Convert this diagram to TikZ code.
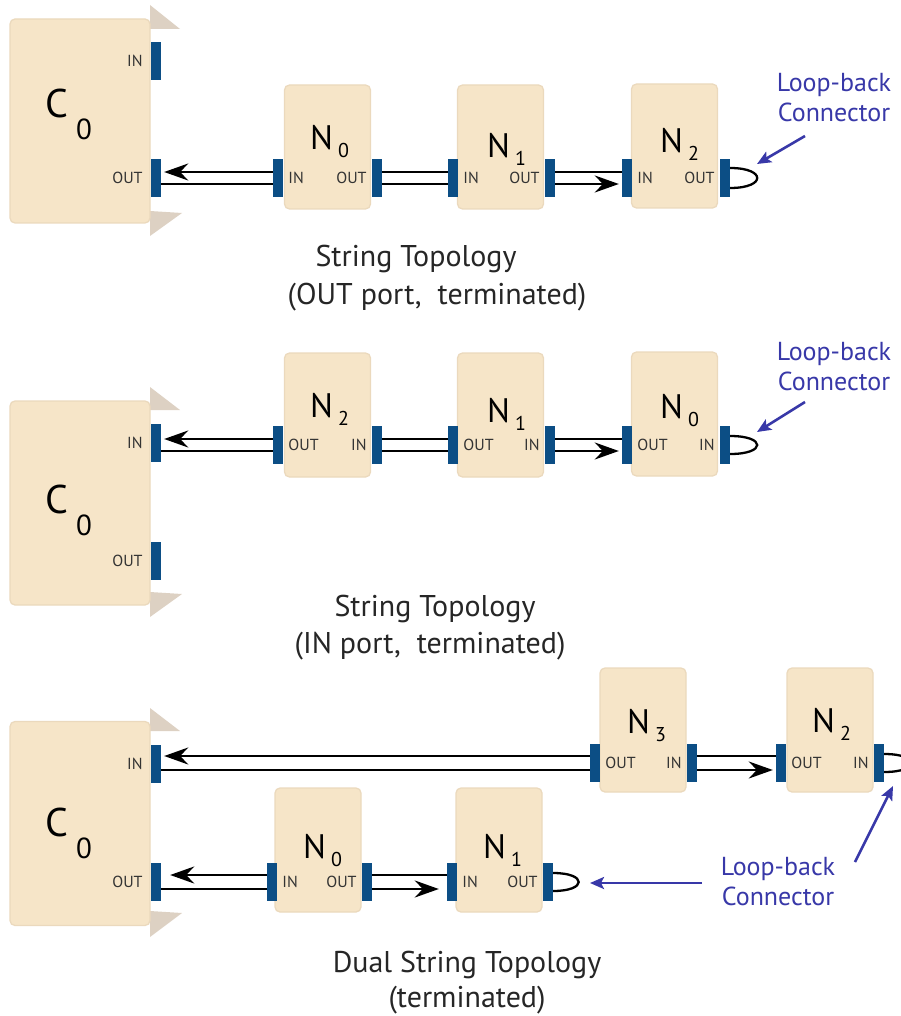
\documentclass[tikz,border=0pt]{standalone}
\usepackage{fontspec}
\setmainfont{PT Sans}
\usetikzlibrary{arrows.meta,positioning}
\definecolor{boxfill}{HTML}{F6E5C8}
\definecolor{boxline}{HTML}{EBD9BD}
\definecolor{flap}{HTML}{DDD1C3}
\definecolor{portblue}{HTML}{0C4E85}
\definecolor{notecol}{HTML}{3838A8}
\newcommand{\nsub}[1]{\kern5pt\raisebox{-8pt}{\fontsize{20}{20}\selectfont#1}}
\newcommand{\csub}[1]{\kern8pt\raisebox{-22pt}{\fontsize{29}{29}\selectfont#1}}
\tikzset{%
  % boxes, ports and texts
    base/.style = {rectangle, rounded corners=5pt, draw=boxline,
                   line width=1.3pt, fill=boxfill, inner sep=0pt},
    chassis/.style = {base, minimum width=140pt, minimum height=204pt},
    unit/.style = {base, minimum width=86pt, minimum height=124pt},
    port/.style = {rectangle, fill=portblue, inner sep=0pt,
                   minimum width=10pt, minimum height=38pt},
    plabel/.style = {font=\fontsize{16}{16}\selectfont, text=black!80, inner sep=0pt},
    nlabel/.style = {font=\fontsize{34}{34}\selectfont, inner sep=0pt, anchor=base west},
    clabel/.style = {font=\fontsize{40}{40}\selectfont, inner sep=0pt, anchor=base west},
    caption/.style = {font=\fontsize{30}{30}\selectfont, text=black!85},
    note/.style = {font=\fontsize{26}{30}\selectfont, text=notecol, align=center},
    wire/.style = {line width=2.3pt, black},
    flow/.style = {wire, -{Stealth[length=24pt,width=17pt,inset=8pt]}, shorten >=3pt},
    pointer/.style = {line width=2.6pt, notecol, -{Stealth[length=14pt,width=12pt,inset=3pt]}}
}

\begin{document}
\begin{tikzpicture}[x=1pt,y=-1pt]
\useasboundingbox (0,0) rectangle (900,1016);

%% string topology, OUT port
\fill[flap] (150,5) -- (180,29) -- (150,29) -- cycle;
\fill[flap] (150,211) -- (182,213) -- (150,236) -- cycle;
\node[chassis] (c0a) at (80,121) {};
\node[clabel] (c0aL) at (45,118) {C\csub{0}};
\node[port] (c0aIn) at (156,61) {};
\node[port] (c0aOut) at (156,178) {};
\node[plabel, left=8pt of c0aIn] (c0aInL) {IN};
\node[plabel, left=8pt of c0aOut] (c0aOutL) {OUT};

\node[unit] (n0a) at (327.5,147) {};
\node[nlabel] (n0aL) at (310,150) {N\nsub{0}};
\node[port] (n0aIn) at (278,178) {};
\node[port] (n0aOut) at (377,178) {};
\node[plabel, right=5pt of n0aIn] (n0aInL) {IN};
\node[plabel, left=5pt of n0aOut] (n0aOutL) {OUT};

\node[unit] (n1a) at (500.5,147) {};
\node[nlabel] (n1aL) at (487,158) {N\nsub{1}};
\node[port] (n1aIn) at (453,178) {};
\node[port] (n1aOut) at (550,178) {};
\node[plabel, right=5pt of n1aIn] (n1aInL) {IN};
\node[plabel, left=5pt of n1aOut] (n1aOutL) {OUT};

\node[unit] (n2a) at (674.5,146) {};
\node[nlabel] (n2aL) at (660,153) {N\nsub{2}};
\node[port] (n2aIn) at (627,178) {};
\node[port] (n2aOut) at (725,178) {};
\node[plabel, right=5pt of n2aIn] (n2aInL) {IN};
\node[plabel, left=5pt of n2aOut] (n2aOutL) {OUT};

\draw[flow] ([yshift=6pt]n0aIn.west) -- ([yshift=6pt]n0aIn.west -| c0aOut.east);
\draw[wire] ([yshift=-6pt]n0aIn.west) -- ([yshift=-6pt]n0aIn.west -| c0aOut.east);
\draw[wire] ([yshift=6pt]n0aOut.east) -- ([yshift=6pt]n0aOut.east -| n1aIn.west);
\draw[wire] ([yshift=-6pt]n0aOut.east) -- ([yshift=-6pt]n0aOut.east -| n1aIn.west);
\draw[wire] ([yshift=6pt]n1aOut.east) -- ([yshift=6pt]n1aOut.east -| n2aIn.west);
\draw[flow] ([yshift=-6pt]n1aOut.east) -- ([yshift=-6pt]n1aOut.east -| n2aIn.west);
\draw[wire] ([yshift=10pt]n2aOut.east) .. controls +(36,0) and +(36,0) .. ([yshift=-10pt]n2aOut.east);

\node[note] (lba) at (834,98) {Loop-back\\Connector};
\coordinate (lbaTail) at (805,136);
\coordinate (lbaTip) at (757,164);
\draw[pointer] (lbaTail) -- (lbaTip);

\node[caption] (capa1) at (416,259) {String Topology};
\node[caption] (capa2) at (437,297) {(OUT port,\ \ terminated)};

%% string topology, IN port
\fill[flap] (150,387) -- (180,410) -- (150,410) -- cycle;
\fill[flap] (150,592) -- (182,594) -- (150,617) -- cycle;
\node[chassis] (c0b) at (80,503) {};
\node[clabel] (c0bL) at (45,513) {C\csub{0}};
\node[port] (c0bIn) at (156,443) {};
\node[port] (c0bOut) at (156,561) {};
\node[plabel, left=8pt of c0bIn] (c0bInL) {IN};
\node[plabel, left=8pt of c0bOut] (c0bOutL) {OUT};

\node[unit] (n2b) at (327.5,415) {};
\node[nlabel] (n2bL) at (310,417) {N\nsub{2}};
\node[port] (n2bOut) at (278,445) {};
\node[port] (n2bIn) at (377,445) {};
\node[plabel, right=5pt of n2bOut] (n2bOutL) {OUT};
\node[plabel, left=5pt of n2bIn] (n2bInL) {IN};

\node[unit] (n1b) at (500.5,415) {};
\node[nlabel] (n1bL) at (487,422) {N\nsub{1}};
\node[port] (n1bOut) at (453,445) {};
\node[port] (n1bIn) at (550,445) {};
\node[plabel, right=5pt of n1bOut] (n1bOutL) {OUT};
\node[plabel, left=5pt of n1bIn] (n1bInL) {IN};

\node[unit] (n0b) at (674.5,414) {};
\node[nlabel] (n0bL) at (660,418) {N\nsub{0}};
\node[port] (n0bOut) at (627,445) {};
\node[port] (n0bIn) at (725,445) {};
\node[plabel, right=5pt of n0bOut] (n0bOutL) {OUT};
\node[plabel, left=5pt of n0bIn] (n0bInL) {IN};

\draw[flow] ([yshift=6pt]n2bOut.west) -- ([yshift=6pt]n2bOut.west -| c0bIn.east);
\draw[wire] ([yshift=-6pt]n2bOut.west) -- ([yshift=-6pt]n2bOut.west -| c0bIn.east);
\draw[wire] ([yshift=6pt]n2bIn.east) -- ([yshift=6pt]n2bIn.east -| n1bOut.west);
\draw[wire] ([yshift=-6pt]n2bIn.east) -- ([yshift=-6pt]n2bIn.east -| n1bOut.west);
\draw[wire] ([yshift=6pt]n1bIn.east) -- ([yshift=6pt]n1bIn.east -| n0bOut.west);
\draw[flow] ([yshift=-6pt]n1bIn.east) -- ([yshift=-6pt]n1bIn.east -| n0bOut.west);
\draw[wire] ([yshift=9pt]n0bIn.east) .. controls +(36,0) and +(36,0) .. ([yshift=-9pt]n0bIn.east);

\node[note] (lbb) at (834,367) {Loop-back\\Connector};
\coordinate (lbbTail) at (805,402);
\coordinate (lbbTip) at (757,432);
\draw[pointer] (lbbTail) -- (lbbTip);

\node[caption] (capb1) at (435,609) {String Topology};
\node[caption] (capb2) at (430,646) {(IN port,\ \ terminated)};

%% dual string topology
\fill[flap] (150,708) -- (180,731) -- (150,731) -- cycle;
\fill[flap] (150,911) -- (182,913) -- (150,937) -- cycle;
\node[chassis] (c0c) at (80,823.5) {};
\node[clabel] (c0cL) at (45,836) {C\csub{0}};
\node[port] (c0cIn) at (156,764) {};
\node[port] (c0cOut) at (156,882) {};
\node[plabel, left=8pt of c0cIn] (c0cInL) {IN};
\node[plabel, left=8pt of c0cOut] (c0cOutL) {OUT};

\node[unit] (n3c) at (643,730) {};
\node[nlabel] (n3cL) at (627,733) {N\nsub{3}};
\node[port] (n3cOut) at (595,763) {};
\node[port] (n3cIn) at (692,763) {};
\node[plabel, right=5pt of n3cOut] (n3cOutL) {OUT};
\node[plabel, left=5pt of n3cIn] (n3cInL) {IN};

\node[unit] (n2c) at (830,730) {};
\node[nlabel] (n2cL) at (812,732) {N\nsub{2}};
\node[port] (n2cOut) at (781,763) {};
\node[port] (n2cIn) at (879,763) {};
\node[plabel, right=5pt of n2cOut] (n2cOutL) {OUT};
\node[plabel, left=5pt of n2cIn] (n2cInL) {IN};

\node[unit] (n0c) at (318,850) {};
\node[nlabel] (n0cL) at (303,858) {N\nsub{0}};
\node[port] (n0cIn) at (272,882) {};
\node[port] (n0cOut) at (367,882) {};
\node[plabel, right=5pt of n0cIn] (n0cInL) {IN};
\node[plabel, left=5pt of n0cOut] (n0cOutL) {OUT};

\node[unit] (n1c) at (499,850) {};
\node[nlabel] (n1cL) at (483,858) {N\nsub{1}};
\node[port] (n1cIn) at (452,882) {};
\node[port] (n1cOut) at (548,882) {};
\node[plabel, right=5pt of n1cIn] (n1cInL) {IN};
\node[plabel, left=5pt of n1cOut] (n1cOutL) {OUT};

\draw[flow] ([yshift=7pt]n3cOut.west) -- ([yshift=7pt]n3cOut.west -| c0cIn.east);
\draw[wire] ([yshift=-7pt]n3cOut.west) -- ([yshift=-7pt]n3cOut.west -| c0cIn.east);
\draw[wire] ([yshift=7pt]n3cIn.east) -- ([yshift=7pt]n3cIn.east -| n2cOut.west);
\draw[flow] ([yshift=-7pt]n3cIn.east) -- ([yshift=-7pt]n3cIn.east -| n2cOut.west);
\draw[wire] ([yshift=9pt]n2cIn.east) .. controls +(36,0) and +(36,0) .. ([yshift=-9pt]n2cIn.east);

\draw[flow, shorten >=9pt] ([yshift=7pt]n0cIn.west) -- ([yshift=7pt]n0cIn.west -| c0cOut.east);
\draw[wire] ([yshift=-7pt]n0cIn.west) -- ([yshift=-7pt]n0cIn.west -| c0cOut.east);
\draw[wire] ([yshift=7pt]n0cOut.east) -- ([yshift=7pt]n0cOut.east -| n1cIn.west);
\draw[flow, shorten >=8pt] ([yshift=-7pt]n0cOut.east) -- ([yshift=-7pt]n0cOut.east -| n1cIn.west);
\draw[wire] ([yshift=9pt]n1cOut.east) .. controls +(34,0) and +(34,0) .. ([yshift=-9pt]n1cOut.east);

\node[note] (lbc) at (778,882) {Loop-back\\Connector};
\coordinate (lbcTail) at (702,883);
\coordinate (lbcTip) at (590,883);
\draw[pointer] (lbcTail) -- (lbcTip);
\coordinate (lbcTail2) at (855,862);
\coordinate (lbcTip2) at (893,786);
\draw[pointer] (lbcTail2) -- (lbcTip2);

\node[caption] (capc1) at (467,965) {Dual String Topology};
\node[caption] (capc2) at (467,1000) {(terminated)};

\end{tikzpicture}
\end{document}
